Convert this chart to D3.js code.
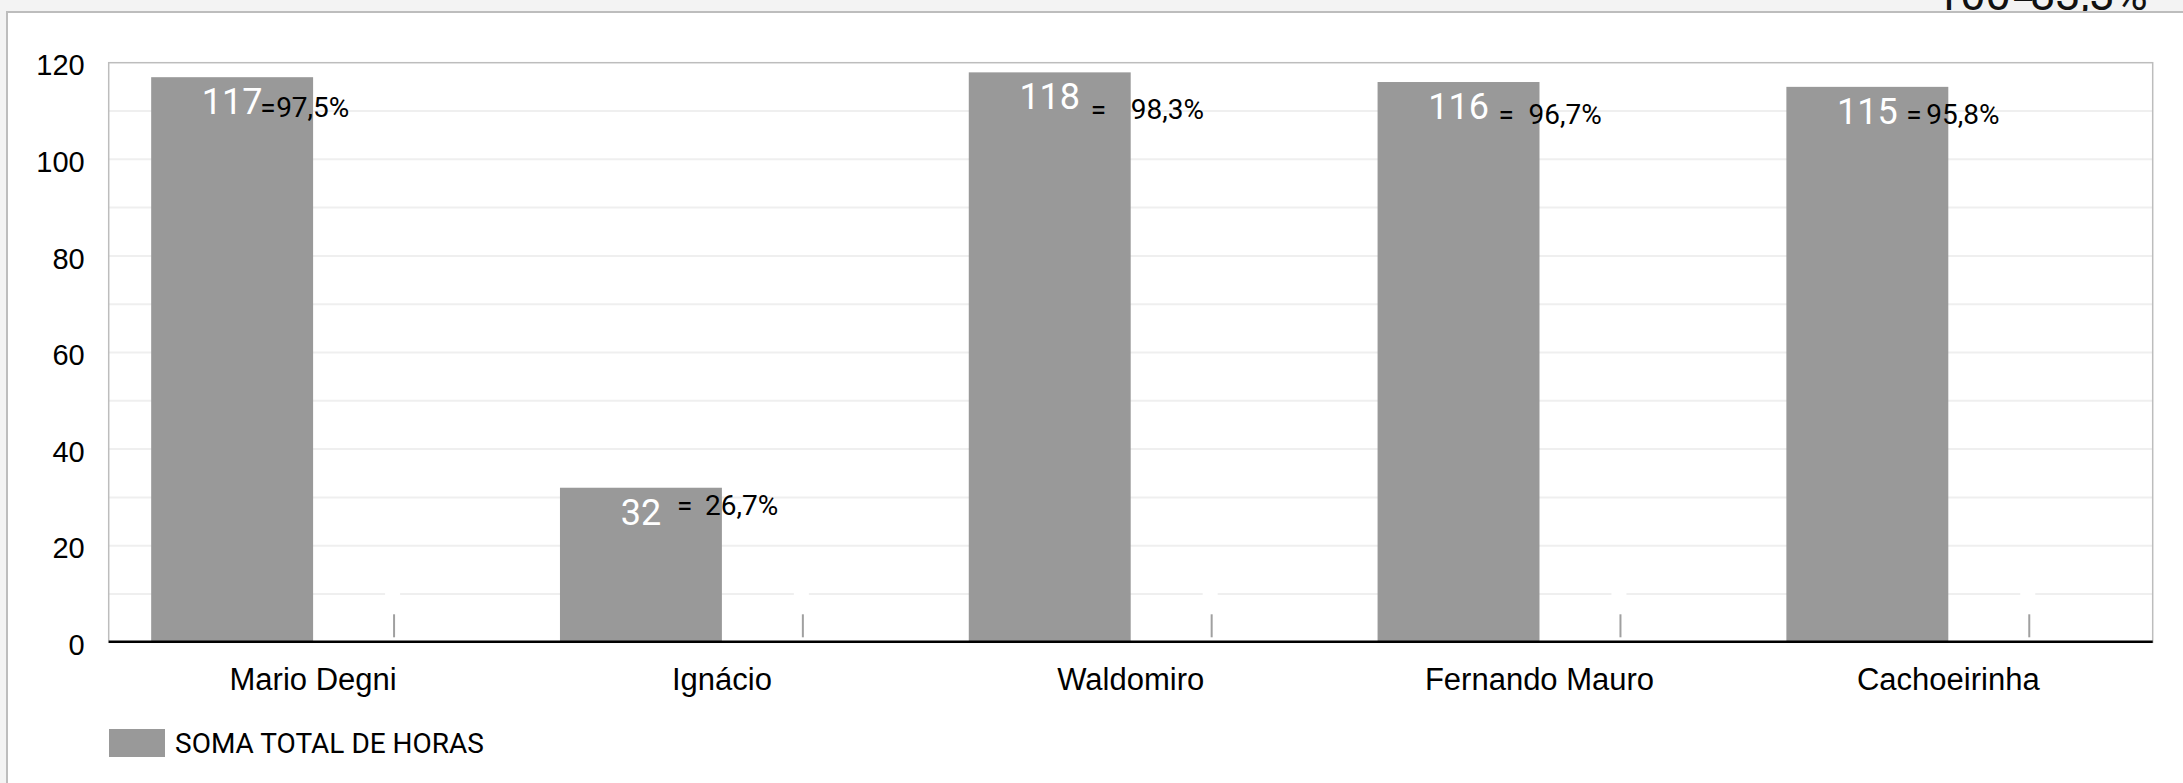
<!DOCTYPE html>
<html><head><meta charset="utf-8">
<script src="https://cdn.jsdelivr.net/npm/d3@7"></script>
<style>
body{margin:0;background:#f3f3f3;overflow:hidden;}
svg{display:block;font-family:Roboto,"Noto Sans",sans-serif;}
</style>
</head><body>
<svg id="c" width="2183" height="783"></svg>
<script>
// ---- data ----
const categories = ["Mario Degni","Ignácio","Waldomiro","Fernando Mauro","Cachoeirinha"];
const horas = [117, 32, 118, 116, 115];
const horasSerie2 = [0, 0, 0, 0, 0];
const percentLabels = ["97,5%","26,7%","98,3%","96,7%","95,8%"];
const yTicks = [0, 20, 40, 60, 80, 100, 120];
const gridValues = [10, 20, 30, 40, 50, 60, 70, 80, 90, 100, 110];
const seriesName = "SOMA TOTAL DE HORAS";
const headerParts = ["100=", "83,3%"];

// ---- layout (label offsets relative to bar centre / bar top) ----
const labelLayout = [
  {eqDx: 28, pctDx: 44, dy: 40},
  {eqDx: 36, pctDx: 64, dy: 27},
  {eqDx: 41, pctDx: 81, dy: 47},
  {eqDx: 40, pctDx: 70, dy: 42},
  {eqDx: 39, pctDx: 59, dy: 37}
];

const svg = d3.select("#c");
const L = 108.7, R = 2152.7, T = 62.7, B = 642.3;

const x = d3.scaleBand().domain(categories).range([L, R]).padding(0);
const xs = d3.scaleBand().domain(["s1","s2"]).range([0, x.bandwidth()]).paddingInner(0).paddingOuter(0.2623);
const y = d3.scaleLinear().domain([0, 120]).range([B, T]);

// header text (clipped by frame)
const hdr = svg.append("g").attr("font-size", 45).attr("fill", "#111");
hdr.append("text").attr("x", 1935).attr("y", 10).text(headerParts[0]);
hdr.append("text").attr("x", 2030).attr("y", 10).text(headerParts[1]);

// frame
svg.append("rect").attr("x", 7).attr("y", 12).attr("width", 2300).attr("height", 900)
  .attr("fill", "#fff").attr("stroke", "#bdbdbd").attr("stroke-width", 2);

// gridlines
svg.append("g").selectAll("line").data(gridValues).join("line")
  .attr("x1", L).attr("x2", R)
  .attr("y1", d => y(d)).attr("y2", d => y(d))
  .attr("stroke", "#efefef").attr("stroke-width", 2);

// plot border
svg.append("rect").attr("x", L).attr("y", T).attr("width", R - L).attr("height", B - T)
  .attr("fill", "none").attr("stroke", "#bdbdbd").attr("stroke-width", 1.5);

// bars
svg.append("g").selectAll("rect").data(categories).join("rect")
  .attr("x", d => x(d) + xs("s1"))
  .attr("width", xs.bandwidth())
  .attr("y", (d, i) => y(horas[i]))
  .attr("height", (d, i) => y(0) - y(horas[i]))
  .attr("fill", "#999999");

// second (empty) series marks
const s2 = svg.append("g");
categories.forEach((c, i) => {
  const cx = x(c) + xs("s2") + xs.bandwidth() / 2;
  s2.append("rect").attr("x", cx - 9).attr("y", y(10) - 2.5).attr("width", 15).attr("height", 5).attr("fill", "#fff");
  s2.append("line").attr("x1", cx).attr("x2", cx)
    .attr("y1", y(horasSerie2[i]) - 28).attr("y2", y(horasSerie2[i]) - 5)
    .attr("stroke", "#a0a0a0").attr("stroke-width", 2);
});

// value labels (white, inside bars)
svg.append("g").selectAll("text").data(categories).join("text")
  .attr("x", d => x(d) + xs("s1") + xs.bandwidth() / 2)
  .attr("y", (d, i) => y(horas[i]) + 37)
  .attr("text-anchor", "middle").attr("font-size", 36).attr("fill", "#fff")
  .text((d, i) => horas[i]);

// "= xx,x%" labels
const pl = svg.append("g").attr("font-size", 28).attr("fill", "#000");
categories.forEach((c, i) => {
  const cx = x(c) + xs("s1") + xs.bandwidth() / 2;
  const by = y(horas[i]) + labelLayout[i].dy;
  pl.append("text").attr("x", cx + labelLayout[i].eqDx).attr("y", by).text("=");
  pl.append("text").attr("x", cx + labelLayout[i].pctDx).attr("y", by).text(percentLabels[i]);
});

// axes
const ya = svg.append("g").attr("transform", `translate(${L},0)`)
  .call(d3.axisLeft(y).tickValues(yTicks).tickSize(0).tickPadding(24));
ya.select(".domain").remove();
ya.selectAll("text").attr("font-size", 29).attr("fill", "#000").attr("dy", "0.42em").attr("font-family", null);

const xa = svg.append("g").attr("transform", `translate(0,${B})`)
  .call(d3.axisBottom(x).tickSize(0).tickPadding(25.7));
xa.select(".domain").remove();
xa.selectAll("text").attr("font-size", 31).attr("fill", "#000").attr("font-family", null);

svg.append("line").attr("x1", L).attr("x2", R).attr("y1", B - 0.5).attr("y2", B - 0.5)
  .attr("stroke", "#000").attr("stroke-width", 2.5);

// legend
svg.append("rect").attr("x", 109).attr("y", 729).attr("width", 56).attr("height", 28).attr("fill", "#999999");
svg.append("text").attr("x", 175).attr("y", 753).attr("font-size", 28).attr("fill", "#000").text(seriesName);
</script>
</body></html>
